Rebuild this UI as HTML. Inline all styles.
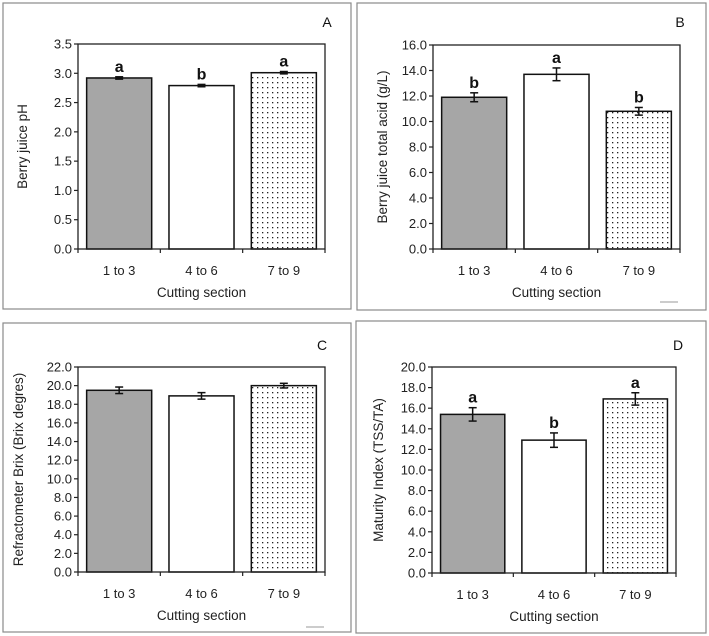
<!DOCTYPE html>
<html><head><meta charset="utf-8">
<style>
html,body{margin:0;padding:0;background:#fff;width:709px;height:636px;overflow:hidden}
svg{display:block;font-family:"Liberation Sans",Arial,sans-serif}
</style></head>
<body>
<svg id="chart" width="709" height="636" viewBox="0 0 709 636">
<defs>
<pattern id="dots" width="5" height="5" patternUnits="userSpaceOnUse">
<rect width="5" height="5" fill="#fff"/><rect x="2" y="2" width="1.3" height="1.3" fill="#222"/>
</pattern>
</defs>
</svg>
<script>
const categories = ["1 to 3","4 to 6","7 to 9"];
const valuesA = [2.92, 2.79, 3.01];
const errorsA = [0.02, 0.02, 0.02];
const lettersA = ["a","b","a"];
const ticksA = ["0.0","0.5","1.0","1.5","2.0","2.5","3.0","3.5"];
const valuesB = [11.9, 13.7, 10.8];
const errorsB = [0.35, 0.5, 0.3];
const lettersB = ["b","a","b"];
const ticksB = ["0.0","2.0","4.0","6.0","8.0","10.0","12.0","14.0","16.0"];
const valuesC = [19.5, 18.9, 20.0];
const errorsC = [0.35, 0.35, 0.25];
const lettersC = ["","",""];
const ticksC = ["0.0","2.0","4.0","6.0","8.0","10.0","12.0","14.0","16.0","18.0","20.0","22.0"];
const valuesD = [15.4, 12.9, 16.9];
const errorsD = [0.65, 0.7, 0.6];
const lettersD = ["a","b","a"];
const ticksD = ["0.0","2.0","4.0","6.0","8.0","10.0","12.0","14.0","16.0","18.0","20.0"];

const NS="http://www.w3.org/2000/svg";
const svg=document.getElementById('chart');
function mk(tag,attrs,parent,text){const e=document.createElementNS(NS,tag);for(const k in attrs)e.setAttribute(k,attrs[k]);if(text!==undefined)e.textContent=text;parent.appendChild(e);return e;}
const fills=["#a6a6a6","#ffffff","url(#dots)"];

function panel(id,cfg,values,errors,letters,ticks){
  const g=mk('g',{},svg);
  
  
  const fr=mk('rect',{x:cfg.fx,y:cfg.fy,width:cfg.fw,height:cfg.fh,fill:'none',stroke:'#8a8a8a','stroke-width':1.2},g);
  
  
  const L=cfg.l,R=cfg.r,T=cfg.t,B=cfg.b;
  const ymax=parseFloat(ticks[ticks.length-1]);
  const y=v=>B-(v/ymax)*(B-T);
  const bw=(R-L)/categories.length;
  const x=i=>L+bw*i+bw/2;
  // bars
  values.forEach((v,i)=>{
    const w=bw*0.79;
    const r=mk('rect',{x:x(i)-w/2,y:y(v),width:w,height:B-y(v),fill:fills[i],stroke:'#111','stroke-width':1.5},g);
    
    
    const e=errors[i];
    const eg=mk('g',{stroke:'#111','stroke-width':1.5},g);
    
    
    mk('line',{x1:x(i),x2:x(i),y1:y(v+e),y2:y(v-e)},eg);
    mk('line',{x1:x(i)-4,x2:x(i)+4,y1:y(v+e),y2:y(v+e)},eg);
    mk('line',{x1:x(i)-4,x2:x(i)+4,y1:y(v-e),y2:y(v-e)},eg);
    if(letters[i]){
      const t=mk('text',{x:x(i),y:y(v+e)-5,'text-anchor':'middle','font-size':16,'font-weight':'bold',fill:'#111'},g,letters[i]);
      
      
    }
  });
  // plot frame
  const pf=mk('rect',{x:L,y:T,width:R-L,height:B-T,fill:'none',stroke:'#222','stroke-width':1.3},g);
  
  
  // y ticks
  ticks.forEach(tk=>{
    const v=parseFloat(tk);
    mk('line',{x1:L-4,x2:L,y1:y(v),y2:y(v),stroke:'#222','stroke-width':1.2},g);
    const t=mk('text',{x:L-6,y:y(v)+4.5,'text-anchor':'end','font-size':13,fill:'#222'},g,tk);
    
    
  });
  // x ticks
  for(let i=0;i<=categories.length;i++){
    mk('line',{x1:L+bw*i,x2:L+bw*i,y1:B,y2:B+4,stroke:'#222','stroke-width':1.2},g);
  }
  categories.forEach((c,i)=>{
    const t=mk('text',{x:x(i),y:B+26,'text-anchor':'middle','font-size':13,fill:'#222'},g,c);
    
    
  });
  const xt=mk('text',{x:(L+R)/2,y:B+48,'text-anchor':'middle','font-size':13.5,fill:'#222'},g,'Cutting section');
  
  
  const yt=mk('text',{x:0,y:0,'text-anchor':'middle','font-size':13.5,fill:'#222',transform:`translate(${cfg.ytx},${(T+B)/2}) rotate(-90)`},g,cfg.ytitle);
  
  
  const lt=mk('text',{x:cfg.lx,y:cfg.ly,'text-anchor':'middle','font-size':14,fill:'#111'},g,id);
  
  
  if(cfg.mark){
    const m=mk('line',{x1:cfg.mark[0],x2:cfg.mark[0]+18,y1:cfg.mark[1],y2:cfg.mark[1],stroke:'#999','stroke-width':1},g);
    
    
  }
}
panel('A',{fx:3,fy:3,fw:348,fh:306,l:78,r:325,t:44,b:249,ytx:27,lx:327,ly:27,ytitle:'Berry juice pH'},valuesA,errorsA,lettersA,ticksA);
panel('B',{fx:357,fy:3,fw:349,fh:307,l:433,r:680,t:45,b:249,ytx:387,lx:680,ly:27,ytitle:'Berry juice total acid (g/L)',mark:[660,302]},valuesB,errorsB,lettersB,ticksB);
panel('C',{fx:3,fy:323,fw:348,fh:309,l:78,r:325,t:367,b:572,ytx:23,lx:322,ly:350,ytitle:'Refractometer Brix (Brix degres)',mark:[306,627]},valuesC,errorsC,lettersC,ticksC);
panel('D',{fx:356,fy:321,fw:350,fh:312,l:432,r:676,t:367,b:573,ytx:383,lx:678,ly:350,ytitle:'Maturity Index (TSS/TA)'},valuesD,errorsD,lettersD,ticksD);
</script>
</body></html>
